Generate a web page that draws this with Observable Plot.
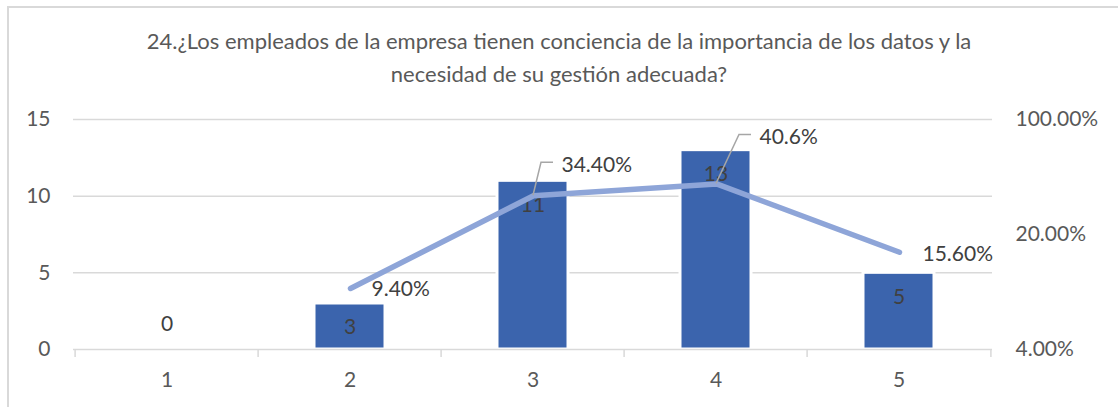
<!DOCTYPE html>
<html><head><meta charset="utf-8">
<script src="https://cdn.jsdelivr.net/npm/d3@7"></script>
<script src="https://cdn.jsdelivr.net/npm/@observablehq/plot@0.6"></script>
<style>
body{margin:0;background:#fff;}
#wrap{position:relative;width:1118px;height:407px;overflow:hidden;font-family:Lato,"Open Sans",sans-serif;background:#fff;}
#frame{position:absolute;left:7px;top:6px;width:1200px;height:500px;border-left:2px solid #d9d9d9;border-top:2px solid #d9d9d9;}
#title{position:absolute;left:0;top:24px;width:1118px;text-align:center;font-size:22px;line-height:33px;color:#595959;}
.layer{position:absolute;left:0;top:0;}
</style></head>
<body>
<div id="wrap">
  <div id="frame"></div>
  <div id="title">24.¿Los empleados de la empresa tienen conciencia de la importancia de los datos y la<br>necesidad de su gestión adecuada?</div>
  <div id="c1" class="layer"></div>
  <div id="c2" class="layer"></div>
</div>
<script>
const categories = ["1", "2", "3", "4", "5"];
const counts = [0, 3, 11, 13, 5];
const percents = [null, 0.094, 0.344, 0.406, 0.156];
const percentLabels = ["", "9.40%", "34.40%", "40.6%", "15.60%"];
const leftTicks = [0, 5, 10, 15];
const rightTicks = [0.04, 0.2, 1];

const rows = categories.map((c, i) => ({cat: c, count: counts[i], pct: percents[i], plabel: percentLabels[i]}));

const W = 1118, H = 407;
const margins = {marginTop: 119, marginBottom: 58, marginLeft: 73, marginRight: 126};
const xOpts = {domain: categories, paddingInner: 0.61, paddingOuter: 0.305, align: 0.5};
const style = {fontFamily: "Lato, 'Open Sans', sans-serif", fontSize: "21px", color: "#595959", background: "transparent", overflow: "visible"};
const grid = "#d9d9d9";
const FS = 21;
const step = (W - margins.marginLeft - margins.marginRight) / categories.length;

const p1 = Plot.plot({
  width: W, height: H, ...margins, style,
  x: {...xOpts, axis: null, label: null},
  y: {domain: [0, 15], ticks: leftTicks, label: null},
  marks: [
    Plot.ruleY(leftTicks.filter(d => d > 0), {stroke: grid, strokeWidth: 1.5}),
    Plot.barY(rows, {x: "cat", y: "count", fill: "#3B64AD", stroke: "#ffffff", strokeWidth: 3}),
    Plot.ruleY([0], {stroke: grid, strokeWidth: 1.5}),
    Plot.ruleX(categories, {x: d => d, y1: 0, y2: 0, dx: -step / 2, stroke: grid, strokeWidth: 1.5, insetBottom: -8}),
    Plot.ruleX(categories.slice(-1), {x: d => d, y1: 0, y2: 0, dx: step / 2, stroke: grid, strokeWidth: 1.5, insetBottom: -8}),
    Plot.axisY({ticks: leftTicks, tickSize: 0, tickPadding: 23, fontSize: FS, fill: "#595959", label: null}),
    Plot.axisX({tickSize: 0, tickPadding: 23, fontSize: FS, fill: "#595959", label: null}),
    Plot.text(rows.filter(d => d.count > 0), {x: "cat", y: "count", text: d => String(d.count), dy: 24, fill: "#404040", fontSize: FS}),
    Plot.text(rows.filter(d => d.count === 0), {x: "cat", y: "count", text: d => String(d.count), dy: -25, fill: "#404040", fontSize: FS})
  ]
});
document.getElementById("c1").appendChild(p1);

const lineRows = rows.filter(d => d.pct != null);
const pick = c => lineRows.filter(d => d.cat === c);

function leaders(index, scales) {
  const ns = "http://www.w3.org/2000/svg";
  const g = document.createElementNS(ns, "g");
  const x = scales.x, y = scales.y;
  const bw = x.bandwidth ? x.bandwidth() / 2 : 0;
  const defs = [["3", [[0,0],[8,-33],[20,-33]]], ["4", [[0,0],[23,-49],[35,-49]]]];
  for (const [c, pts] of defs) {
    const r = lineRows.find(d => d.cat === c);
    const cx = x(r.cat) + bw, cy = y(r.pct);
    const p = document.createElementNS(ns, "path");
    p.setAttribute("d", "M" + pts.map(([a, b]) => (cx + a) + "," + (cy + b)).join("L"));
    p.setAttribute("fill", "none");
    p.setAttribute("stroke", "#a6a6a6");
    p.setAttribute("stroke-width", "1.5");
    g.appendChild(p);
  }
  return g;
}

const p2 = Plot.plot({
  width: W, height: H, ...margins, style,
  x: {...xOpts, axis: null, label: null},
  y: {type: "log", domain: [0.04, 1], axis: null, label: null},
  marks: [
    Plot.axisY({anchor: "right", ticks: rightTicks, tickFormat: d3.format(".2%"), tickSize: 0, tickPadding: 23, fontSize: FS, fill: "#595959", textAnchor: "start", label: null}),
    Plot.line(lineRows, {x: "cat", y: "pct", stroke: "#8EA5D8", strokeWidth: 5.5, strokeLinecap: "round", strokeLinejoin: "round"}),
    leaders,
    Plot.text(pick("2"), {x: "cat", y: "pct", text: "plabel", textAnchor: "start", dx: 21, dy: 1, fill: "#404040", fontSize: FS}),
    Plot.text(pick("3"), {x: "cat", y: "pct", text: "plabel", textAnchor: "start", dx: 28, dy: -30, fill: "#404040", fontSize: FS}),
    Plot.text(pick("4"), {x: "cat", y: "pct", text: "plabel", textAnchor: "start", dx: 43, dy: -47, fill: "#404040", fontSize: FS}),
    Plot.text(pick("5"), {x: "cat", y: "pct", text: "plabel", textAnchor: "start", dx: 23, dy: 2, fill: "#404040", fontSize: FS})
  ]
});
document.getElementById("c2").appendChild(p2);
</script>
</body></html>
